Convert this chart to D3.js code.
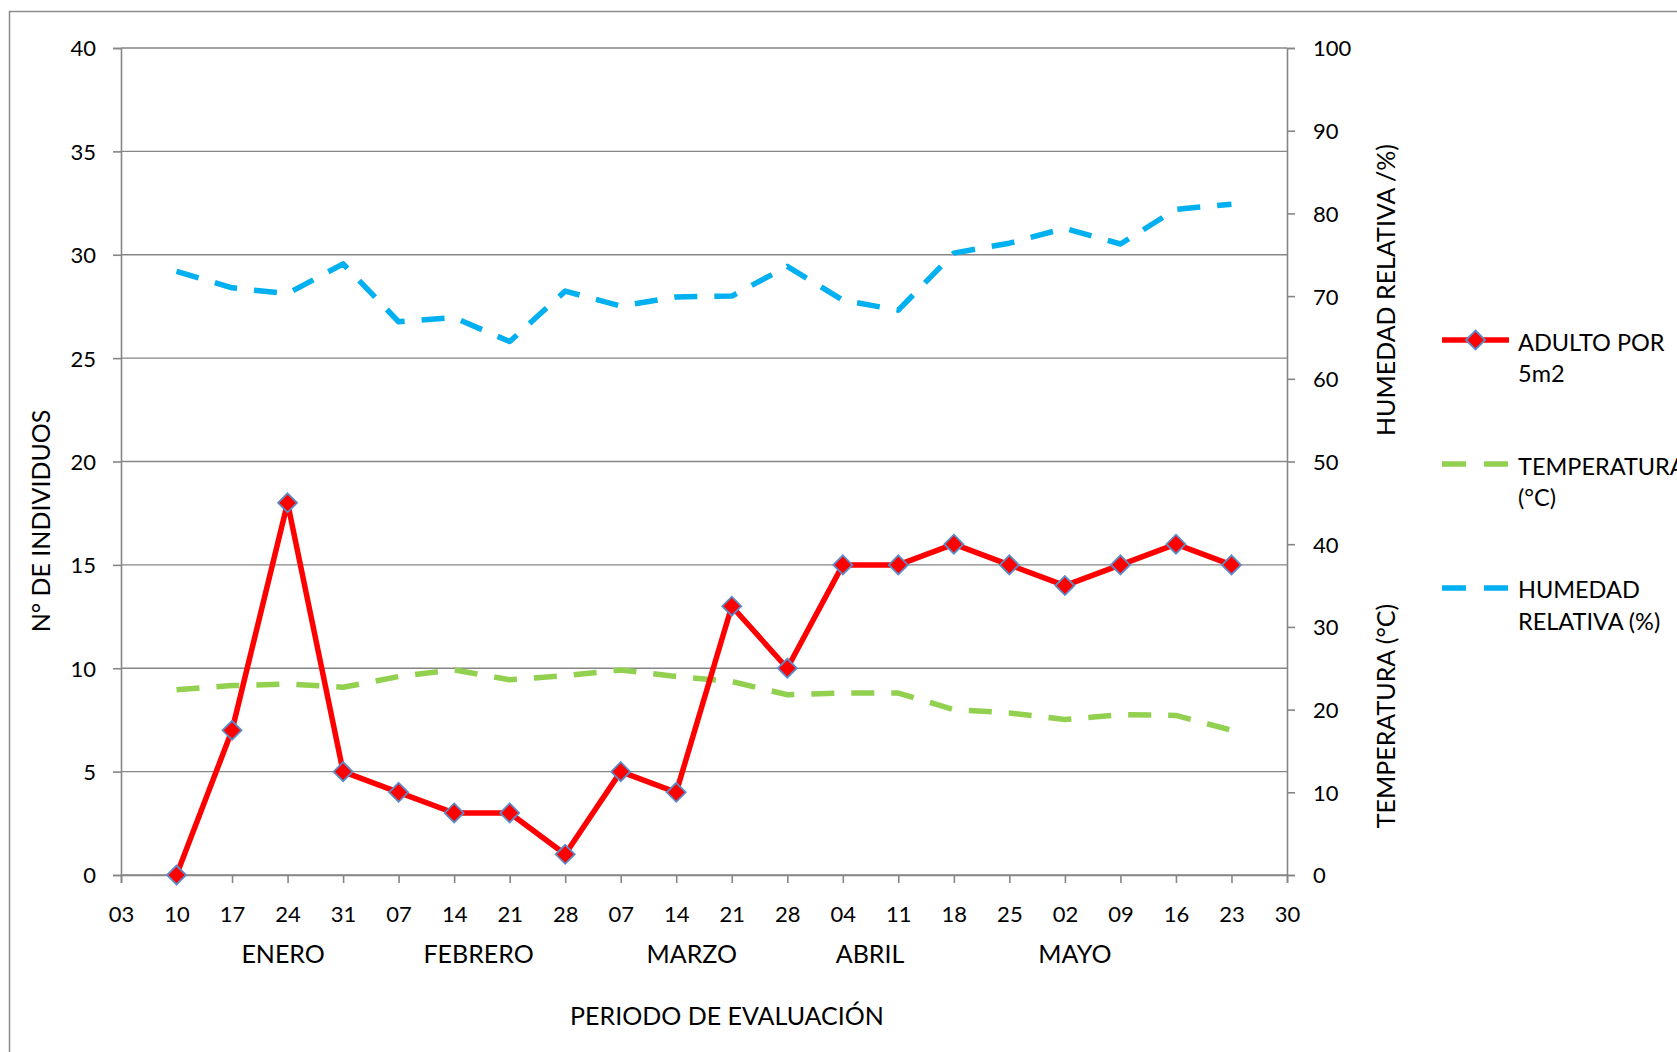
<!DOCTYPE html>
<html>
<head>
<meta charset="utf-8">
<script src="https://cdn.jsdelivr.net/npm/d3@7"></script>
<style>
  html, body { margin: 0; padding: 0; background: #fff; }
  svg { display: block; }
  text { font-family: Lato, "Open Sans", sans-serif; fill: #000; }
</style>
</head>
<body>
<svg id="chart" width="1677" height="1052"></svg>
<script>
// ---- DATA ----
const tickLabels = ["03","10","17","24","31","07","14","21","28","07","14","21","28","04","11","18","25","02","09","16","23","30"];
const pointIndex = [1,2,3,4,5,6,7,8,9,10,11,12,13,14,15,16,17,18,19,20];
const adultos = [0,7,18,5,4,3,3,1,5,4,13,10,15,15,16,15,14,15,16,15];
const temperatura = [22.4,22.9,23.1,22.7,24.0,24.8,23.6,24.1,24.8,24.0,23.4,21.8,22.0,22.0,20.0,19.6,18.8,19.4,19.3,17.5];
const humedad = [73.0,71.0,70.3,73.9,66.9,67.4,64.5,70.6,68.8,69.9,70.0,73.6,69.5,68.3,75.2,76.4,78.2,76.3,80.5,81.1];
const months = ["ENERO","FEBRERO","MARZO","ABRIL","MAYO"];
const monthAt = [2.92,6.44,10.28,13.49,17.18];
const leftTicks = [0,5,10,15,20,25,30,35,40];
const rightTicks = [0,10,20,30,40,50,60,70,80,90,100];

// ---- LAYOUT ----
const svg = d3.select("#chart");
const L = 121, R = 1287, T = 48, B = 875;
const grid = "#868686";
const x = d3.scaleLinear().domain([0, 21]).range([L, R]);
const yL = d3.scaleLinear().domain([0, 40]).range([B, T]);
const yR = d3.scaleLinear().domain([0, 100]).range([B, T]);
const fs = 22;     // tick labels
const fsT = 25;    // titles and month labels
const fsLg = 23.5; // legend

// outer border
svg.append("rect").attr("x", 9.5).attr("y", 11.5).attr("width", 1700).attr("height", 1100)
  .attr("fill", "none").attr("stroke", "#8c8c8c").attr("stroke-width", 1.5);

// gridlines
svg.append("g").selectAll("line").data(leftTicks).join("line")
  .attr("x1", L).attr("x2", R).attr("y1", d => yL(d)).attr("y2", d => yL(d))
  .attr("stroke", grid).attr("stroke-width", 1.4);

// left axis
const gL = svg.append("g").attr("transform", `translate(${L},0)`)
  .call(d3.axisLeft(yL).tickValues(leftTicks).tickSize(8).tickPadding(4));
// right axis
const gR = svg.append("g").attr("transform", `translate(${R},0)`)
  .call(d3.axisRight(yR).tickValues(rightTicks).tickSize(8).tickPadding(18));
// bottom axis
const gB = svg.append("g").attr("transform", `translate(0,${B})`)
  .call(d3.axisBottom(x).tickValues(d3.range(22)).tickFormat(i => tickLabels[i]).tickSize(8).tickPadding(11));

[gL, gR, gB].forEach(g => {
  g.select(".domain").attr("stroke", grid).attr("stroke-width", 1.6);
  g.selectAll(".tick line").attr("stroke", grid).attr("stroke-width", 1.6);
  g.selectAll(".tick text").style("font-family", "Lato, 'Open Sans', sans-serif")
    .style("font-size", fs + "px").attr("fill", "#000");
});
gL.selectAll(".tick text").attr("x", -25).attr("dy", "0.36em");
gR.selectAll(".tick text").attr("x", 26).attr("dy", "0.36em");
gB.selectAll(".tick text").attr("y", 47).attr("dy", null);

// month labels
svg.append("g").selectAll("text").data(months).join("text")
  .attr("x", (d, i) => x(monthAt[i])).attr("y", 963)
  .attr("text-anchor", "middle").style("font-size", fsT + "px").text(d => d);

// axis titles
svg.append("text").attr("x", 727).attr("y", 1025).attr("text-anchor", "middle")
  .style("font-size", fsT + "px").text("PERIODO DE EVALUACIÓN");
svg.append("text").attr("transform", "translate(50,521) rotate(-90)").attr("text-anchor", "middle")
  .style("font-size", fsT + "px").text("N° DE INDIVIDUOS");
svg.append("text").attr("transform", "translate(1395,290) rotate(-90)").attr("text-anchor", "middle")
  .style("font-size", fsT + "px").text("HUMEDAD RELATIVA /%)");
svg.append("text").attr("transform", "translate(1395,716) rotate(-90)").attr("text-anchor", "middle")
  .style("font-size", fsT + "px").text("TEMPERATURA (°C)");

// series
const dash = "23,17";
const lineR = (vals) => d3.line().x((d, i) => x(pointIndex[i])).y(d => yR(d))(vals);
const lineL = (vals) => d3.line().x((d, i) => x(pointIndex[i])).y(d => yL(d))(vals);

svg.append("path").attr("d", lineR(temperatura)).attr("fill", "none")
  .attr("stroke", "#92D050").attr("stroke-width", 5.5).attr("stroke-dasharray", dash)
  .attr("stroke-linejoin", "round");
svg.append("path").attr("d", lineR(humedad)).attr("fill", "none")
  .attr("stroke", "#00B0F0").attr("stroke-width", 5.5).attr("stroke-dasharray", dash)
  .attr("stroke-linejoin", "round");
svg.append("path").attr("d", lineL(adultos)).attr("fill", "none")
  .attr("stroke", "#FF0000").attr("stroke-width", 5.5).attr("stroke-linejoin", "round");

const diamond = (cx, cy, r) => `M${cx},${cy - r}L${cx + r},${cy}L${cx},${cy + r}L${cx - r},${cy}Z`;
svg.append("g").selectAll("path").data(adultos).join("path")
  .attr("d", (d, i) => diamond(x(pointIndex[i]), yL(d), 9.5))
  .attr("fill", "#FF0000").attr("stroke", "#5B8BC9").attr("stroke-width", 1.8);

// legend
const lg = svg.append("g");
const lx1 = 1442, lx2 = 1509, tx = 1518;
lg.append("line").attr("x1", lx1).attr("x2", lx2).attr("y1", 340).attr("y2", 340)
  .attr("stroke", "#FF0000").attr("stroke-width", 5.5);
lg.append("path").attr("d", diamond((lx1 + lx2) / 2, 340, 9.5))
  .attr("fill", "#FF0000").attr("stroke", "#5B8BC9").attr("stroke-width", 1.8);
lg.append("text").attr("x", tx).attr("y", 351).style("font-size", fsLg + "px").text("ADULTO POR");
lg.append("text").attr("x", tx).attr("y", 382).style("font-size", fsLg + "px").text("5m2");

lg.append("line").attr("x1", lx1).attr("x2", lx2).attr("y1", 464).attr("y2", 464)
  .attr("stroke", "#92D050").attr("stroke-width", 5.5).attr("stroke-dasharray", "24,18");
lg.append("text").attr("x", tx).attr("y", 475).style("font-size", fsLg + "px").text("TEMPERATURA");
lg.append("text").attr("x", tx).attr("y", 506).style("font-size", fsLg + "px").text("(°C)");

lg.append("line").attr("x1", lx1).attr("x2", lx2).attr("y1", 588).attr("y2", 588)
  .attr("stroke", "#00B0F0").attr("stroke-width", 5.5).attr("stroke-dasharray", "24,18");
lg.append("text").attr("x", tx).attr("y", 598).style("font-size", fsLg + "px").text("HUMEDAD");
lg.append("text").attr("x", tx).attr("y", 630).style("font-size", fsLg + "px").text("RELATIVA (%)");
</script>
</body>
</html>
